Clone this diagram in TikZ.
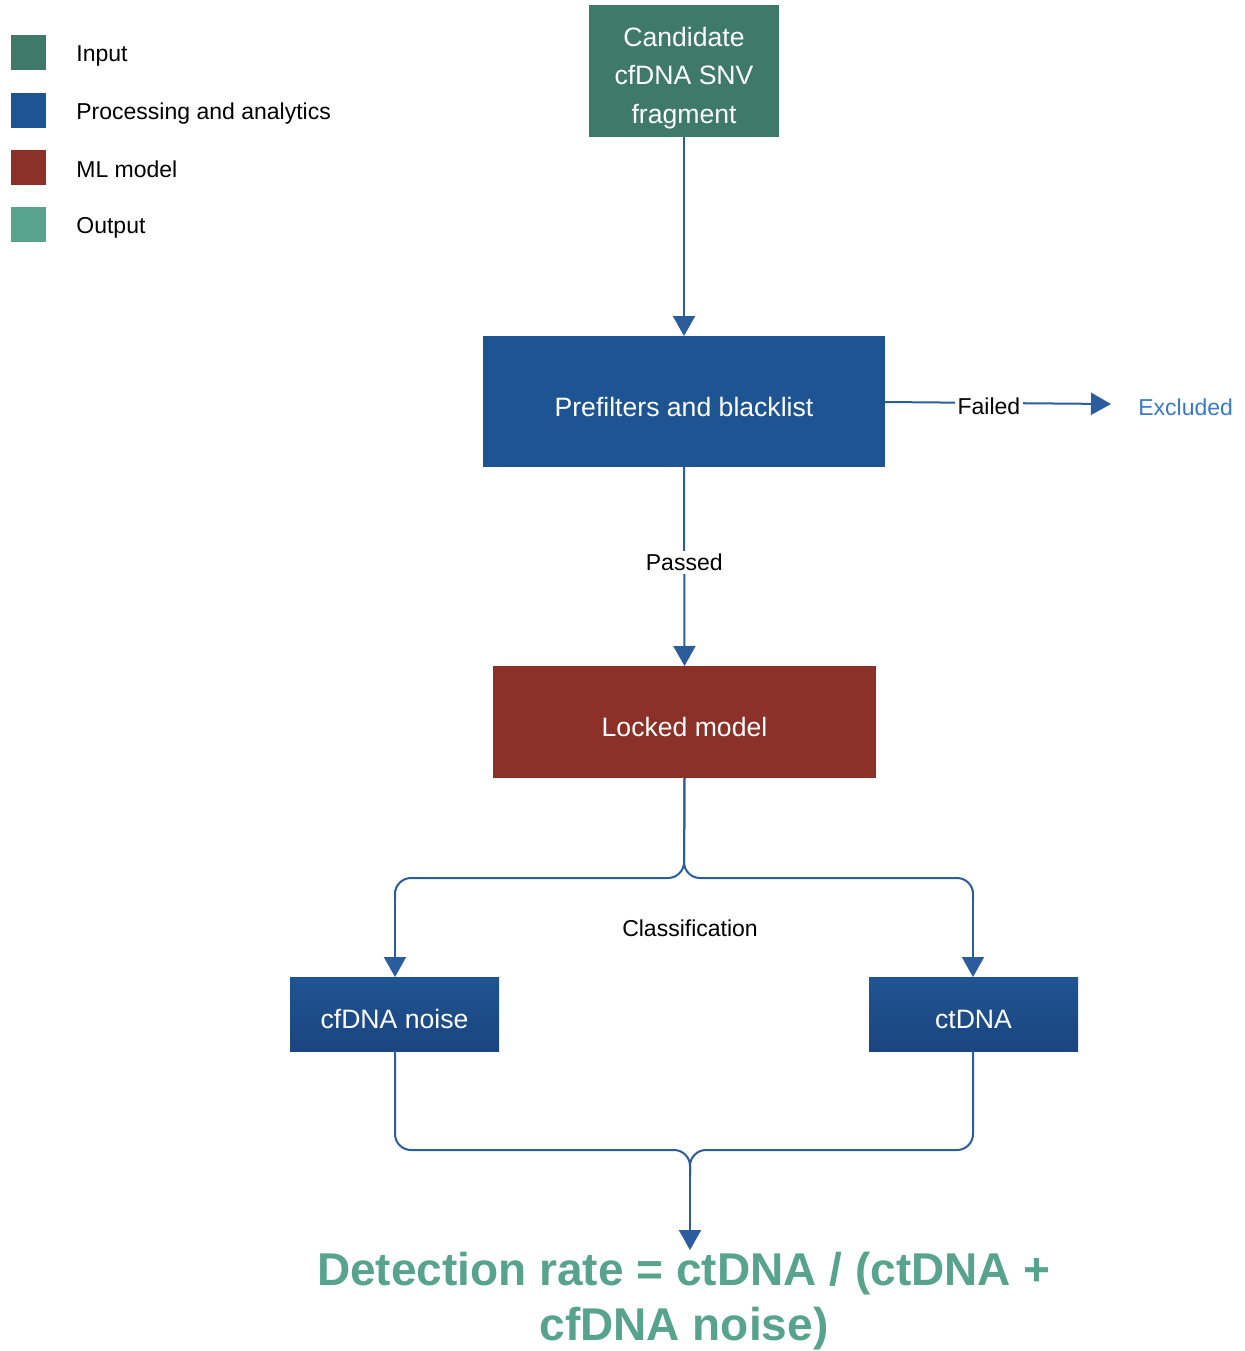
\documentclass[tikz,border=0pt]{standalone}
\usepackage{fontspec}
\setmainfont{Liberation Sans}
\usetikzlibrary{arrows.meta}
\definecolor{cinput}{HTML}{3E7A67}
\definecolor{cproc}{HTML}{1F5492}
\definecolor{cml}{HTML}{8C3127}
\definecolor{cout}{HTML}{57A38B}
\definecolor{cline}{HTML}{2B5C9C}
\definecolor{cexcl}{HTML}{3B78C8}
\definecolor{cdeep}{HTML}{1B4580}
\tikzset{
  flowbox/.style={draw=none, inner sep=0pt, outer sep=0pt},
  boxtext/.style={text=white, align=center, font=\fontsize{13.3}{19.3}\selectfont, inner sep=0pt},
  legbox/.style={draw=none, minimum width=17.5pt, minimum height=17.5pt, inner sep=0pt, outer sep=0pt},
  legtext/.style={anchor=west, font=\fontsize{11.5}{14}\selectfont, inner sep=0pt},
  small/.style={font=\fontsize{11.5}{14}\selectfont, inner sep=1.5pt},
  conn/.style={draw=cline, line width=1pt, -{Triangle[length=10pt,width=11pt]}},
  link/.style={draw=cline, line width=1pt, rounded corners=8pt},
}
\begin{document}
\begin{tikzpicture}[x=0.5pt, y=-0.5pt]
\useasboundingbox (0,0) rectangle (1245,1351);

% legend
\node[legbox, fill=cinput] (l1) at (28,52.5) {};
\node[legbox, fill=cproc] (l2) at (28,110) {};
\node[legbox, fill=cml] (l3) at (28,167.5) {};
\node[legbox, fill=cout] (l4) at (28,224.5) {};
\node[legtext] (t1) at (76,55.5) {Input};
\node[legtext] (t2) at (76,113.5) {Processing and analytics};
\node[legtext] (t3) at (76,169.5) {ML model};
\node[legtext] (t4) at (76,227.5) {Output};

% main boxes
\node[flowbox, fill=cinput, minimum width=95pt, minimum height=66pt] (cand) at (684,71) {};
\node[flowbox, fill=cproc, minimum width=201pt, minimum height=65.5pt] (pre) at (684,401.5) {};
\node[flowbox, fill=cml, minimum width=191.5pt, minimum height=56pt] (lock) at (684.5,722) {};
\node[flowbox, top color=cproc, bottom color=cdeep, minimum width=104.5pt, minimum height=37pt] (noise) at (394.5,1014) {};
\node[flowbox, top color=cproc, bottom color=cdeep, minimum width=104.5pt, minimum height=37pt] (ct) at (973.5,1014) {};

% box captions
\node[boxtext] (candtxt) at ([yshift=-3.5pt]cand.center) {Candidate\\cfDNA SNV\\fragment};
\node[boxtext] (pretxt) at ([yshift=-2.5pt]pre.center) {Prefilters and blacklist};
\node[boxtext] (locktxt) at ([yshift=-2.5pt]lock.center) {Locked model};
\node[boxtext] (noisetxt) at ([yshift=-2.5pt]noise.center) {cfDNA noise};
\node[boxtext] (cttxt) at ([yshift=-2.5pt]ct.center) {ctDNA};

\node[small, text=cexcl, anchor=west, inner sep=0pt] (exc) at (1138,407) {Excluded};
\coordinate (exctip) at (1111,404);

\node[text=cout, align=center, font=\fontsize{23}{27.5}\selectfont\bfseries, inner sep=0pt, anchor=north] (rate) at (684,1252)
  {Detection rate = ctDNA / (ctDNA +\\cfDNA noise)};
\coordinate (ratetip) at (690,1250);

% connectors
\draw[conn] (cand.south) -- (pre.north);
\draw[conn] (pre.south) -- node[small, fill=white, pos=0.48] (passed) {Passed} (lock.north);
\draw[conn] (pre.east |- 0,402) -- node[small, fill=white, pos=0.46, yshift=-1.5pt] (failed) {Failed} (exctip);

\coordinate (split) at (684,878);
\draw[link] (lock.south) -- (split) -- (395,878) -- (395,900);
\draw[conn] (395,890) -- (noise.north -| 395,0);
\draw[link] (lock.south) -- (split) -- (973,878) -- (973,900);
\draw[conn] (973,890) -- (ct.north -| 973,0);
\node[small] (cls) at (690,928) {Classification};

\coordinate (merge) at (690,1150);
\draw[link] (noise.south -| 395,0) -- (395,1150) -- (merge) -- (690,1175);
\draw[link] (ct.south -| 973,0) -- (973,1150) -- (merge) -- (690,1175);
\draw[conn] (690,1165) -- (ratetip);
\end{tikzpicture}
\end{document}
